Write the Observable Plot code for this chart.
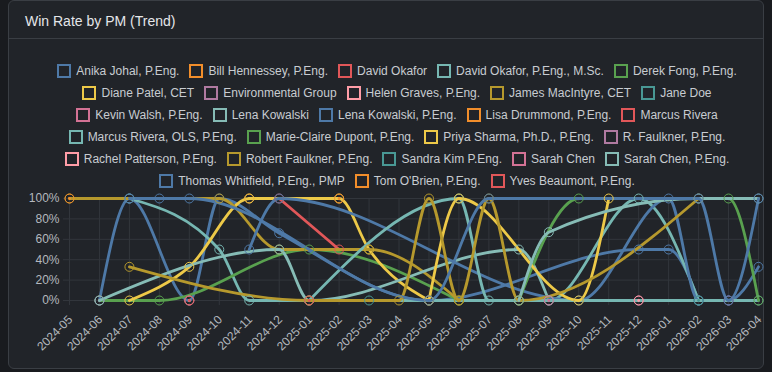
<!DOCTYPE html>
<html>
<head>
<meta charset="utf-8">
<script src="https://cdn.jsdelivr.net/npm/d3@7"></script>
<script src="https://cdn.jsdelivr.net/npm/@observablehq/plot@0.6"></script>
<style>
  html, body { margin: 0; padding: 0; }
  body { width: 772px; height: 372px; background: #191b1f; position: relative; overflow: hidden;
         font-family: "Liberation Sans", Arial, Helvetica, sans-serif; }
  #card { position: absolute; left: 8px; top: 0px; width: 754px; height: 367px;
          border: 1px solid #3a3e44; border-radius: 6px; background: #212429; }
  #title { height: 37px; border-bottom: 1px solid #3a3e44; color: #e4e6e9; font-size: 14px;
           line-height: 40px; padding-left: 16px; }
  #legend { position: absolute; left: 32px; top: 60px; width: 730px; display: flex; flex-wrap: wrap;
            justify-content: center; }
  .item { display: flex; align-items: center; height: 22px; margin: 0 5px; color: #c8ccd1; font-size: 12px; white-space: nowrap; }
  .box { width: 10px; height: 10px; border: 2px solid; background: #212429; margin-right: 5px; }
  #chart { position: absolute; left: 0; top: 189px; width: 772px; }
  #chart svg { max-width: none; }
</style>
</head>
<body>
<div id="card"><div id="title">Win Rate by PM (Trend)</div></div>
<div id="legend"></div>
<div id="chart"></div>
<script>
const months = ["2024-05","2024-06","2024-07","2024-08","2024-09","2024-10","2024-11","2024-12",
  "2025-01","2025-02","2025-03","2025-04","2025-05","2025-06","2025-07","2025-08","2025-09","2025-10",
  "2025-11","2025-12","2026-01","2026-02","2026-03","2026-04"];

const names = ["Anika Johal, P.Eng.","Bill Hennessey, P.Eng.","David Okafor","David Okafor, P.Eng., M.Sc.",
  "Derek Fong, P.Eng.","Diane Patel, CET","Environmental Group","Helen Graves, P.Eng.","James MacIntyre, CET",
  "Jane Doe","Kevin Walsh, P.Eng.","Lena Kowalski","Lena Kowalski, P.Eng.","Lisa Drummond, P.Eng.",
  "Marcus Rivera","Marcus Rivera, OLS, P.Eng.","Marie-Claire Dupont, P.Eng.","Priya Sharma, Ph.D., P.Eng.",
  "R. Faulkner, P.Eng.","Rachel Patterson, P.Eng.","Robert Faulkner, P.Eng.","Sandra Kim P.Eng.",
  "Sarah Chen","Sarah Chen, P.Eng.","Thomas Whitfield, P.Eng., PMP","Tom O'Brien, P.Eng.","Yves Beaumont, P.Eng."];

const palette = ["#4e79a7","#f28e2b","#e15759","#76b7b2","#59a14f","#edc948",
  "#b07aa1","#ff9da7","#b6992d","#499894","#d37295","#86bcb6"];

const yTicks = [0, 20, 40, 60, 80, 100];

const _ = null;
// win rate (%) per PM per month, index aligned with months; null = no data
const rates = [
  /* Anika Johal */      [_,0,100,_,0,100,_,66,_,_,_,_,0,_,_,_,_,_,_,50,50,0,_,_],
  /* Bill Hennessey */   [_,_,_,_,_,_,100,_,_,_,_,_,_,_,_,_,_,_,_,_,_,_,_,_],
  /* David Okafor */     [_,_,_,_,_,_,_,100,_,50,_,_,_,_,_,_,_,_,_,_,_,_,_,_],
  /* David Okafor PEng */[_,_,100,_,_,50,0,_,_,_,_,_,_,_,_,_,0,_,_,100,_,0,_,_],
  /* Derek Fong */       [_,0,_,0,_,_,_,_,50,_,_,_,_,0,_,_,_,_,_,_,_,_,_,_],
  /* Diane Patel */      [_,_,0,_,33,_,100,_,_,100,50,_,0,_,_,_,_,_,_,_,_,_,_,_],
  /* Environmental */    [_,0,_,_,_,_,_,_,_,_,_,_,_,_,_,_,_,_,_,_,_,_,_,_],
  /* Helen Graves */     [_,_,_,_,0,_,_,_,_,_,_,_,_,_,_,_,_,_,_,_,_,_,_,_],
  /* James MacIntyre */  [100,_,_,_,_,100,_,50,_,_,50,_,_,0,_,_,_,_,_,_,_,_,_,_],
  /* Jane Doe */         [_,_,_,_,_,_,_,_,_,_,0,_,_,_,_,_,_,_,_,_,_,_,_,_],
  /* Kevin Walsh */      [_,_,_,_,_,_,_,_,_,_,_,_,_,_,_,_,_,_,_,0,_,_,_,_],
  /* Lena Kowalski */    [_,0,_,_,_,_,_,50,0,_,_,_,_,_,_,50,0,_,_,_,_,_,_,_],
  /* Lena Kowalski PEng*/[_,_,_,_,_,_,50,100,_,_,_,_,_,_,_,_,_,0,_,_,100,0,0,33],
  /* Lisa Drummond */    [100,_,_,_,_,_,_,_,_,_,_,_,_,_,_,_,_,_,_,_,_,_,_,_],
  /* Marcus Rivera */    [_,_,_,_,0,_,_,_,_,_,_,_,_,_,_,_,_,_,_,_,_,_,_,_],
  /* Marcus Rivera OLS */[_,_,_,_,_,_,_,_,0,_,_,_,_,100,0,_,_,_,_,_,_,_,_,0],
  /* Marie-Claire */     [_,_,_,_,_,_,_,_,_,_,_,_,_,_,_,0,_,100,_,_,_,_,100,0],
  /* Priya Sharma */     [_,_,_,_,_,_,_,_,_,_,_,_,0,100,_,_,_,0,100,_,_,_,_,_],
  /* R. Faulkner */      [_,_,_,_,_,_,_,_,_,_,_,_,_,_,_,_,_,_,_,_,_,_,0,_],
  /* Rachel Patterson */ [_,_,_,_,_,_,_,_,_,_,_,_,_,_,_,_,_,_,_,0,_,_,_,_],
  /* Robert Faulkner */  [_,_,33,_,_,_,_,_,0,_,_,0,100,0,100,0,_,_,_,_,_,100,_,_],
  /* Sandra Kim */       [_,_,_,_,_,_,_,_,_,_,_,_,_,_,_,_,_,_,_,_,_,0,_,_],
  /* Sarah Chen */       [_,_,_,_,_,_,_,_,_,_,_,_,_,_,_,_,0,_,_,_,_,_,_,_],
  /* Sarah Chen PEng */  [_,_,_,_,_,_,_,_,_,_,_,_,_,_,_,0,67,_,_,_,_,100,_,100],
  /* Thomas Whitfield */ [_,_,100,100,100,_,_,_,_,_,_,_,0,_,100,_,_,_,_,_,_,100,0,100],
  /* Tom O'Brien */      [_,_,_,_,_,_,_,_,_,100,_,_,_,_,_,_,_,_,_,_,_,_,_,_],
  /* Yves Beaumont */    [_,_,_,_,_,_,_,_,0,_,_,_,_,_,_,_,_,_,_,_,_,_,_,_]
];

const colors = names.map((n, i) => palette[i % palette.length]);

const rows = [];
names.forEach((name, i) => {
  rates[i].forEach((v, j) => { if (v != null) rows.push({name, month: months[j], value: v}); });
});

// legend
const legend = document.getElementById("legend");
names.forEach((n, i) => {
  const it = document.createElement("div");
  it.className = "item";
  const b = document.createElement("div");
  b.className = "box";
  b.style.borderColor = colors[i];
  const t = document.createElement("span");
  t.textContent = n;
  it.appendChild(b); it.appendChild(t);
  legend.appendChild(it);
});

const gridColor = "#32363c";
const tickColor = "#b4b8be";

const chart = Plot.plot({
  width: 772,
  height: 178,
  marginTop: 9,
  marginBottom: 67,
  marginLeft: 69,
  marginRight: 14,
  style: {background: "transparent", fontSize: "12px", fontFamily: "'Liberation Sans', Arial, sans-serif", overflow: "visible"},
  x: {type: "point", domain: months, padding: 0, round: false},
  y: {domain: [0, 100]},
  color: {domain: names, range: colors},
  marks: [
    Plot.gridX({stroke: gridColor, strokeOpacity: 1}),
    Plot.gridY(yTicks, {stroke: gridColor, strokeOpacity: 1}),
    Plot.axisY(yTicks, {tickFormat: d => d + "%", tickSize: 6, tickPadding: 4, stroke: gridColor, fill: tickColor, label: null}),
    Plot.axisX({tickSize: 5, tickFormat: () => "", stroke: gridColor, label: null}),
    Plot.text(months, {x: d => d, text: d => d, frameAnchor: "bottom", dx: 1, dy: 17, rotate: -45,
      textAnchor: "end", lineAnchor: "middle", fill: tickColor, fontSize: 12}),
    Plot.line(rows, {x: "month", y: "value", z: "name", stroke: "name", strokeWidth: 2.8, curve: "monotone-x"}),
    Plot.dot(rows, {x: "month", y: "value", stroke: "name", r: 4.5, strokeWidth: 1, fill: "none"})
  ]
});
document.getElementById("chart").appendChild(chart);
</script>
</body>
</html>
